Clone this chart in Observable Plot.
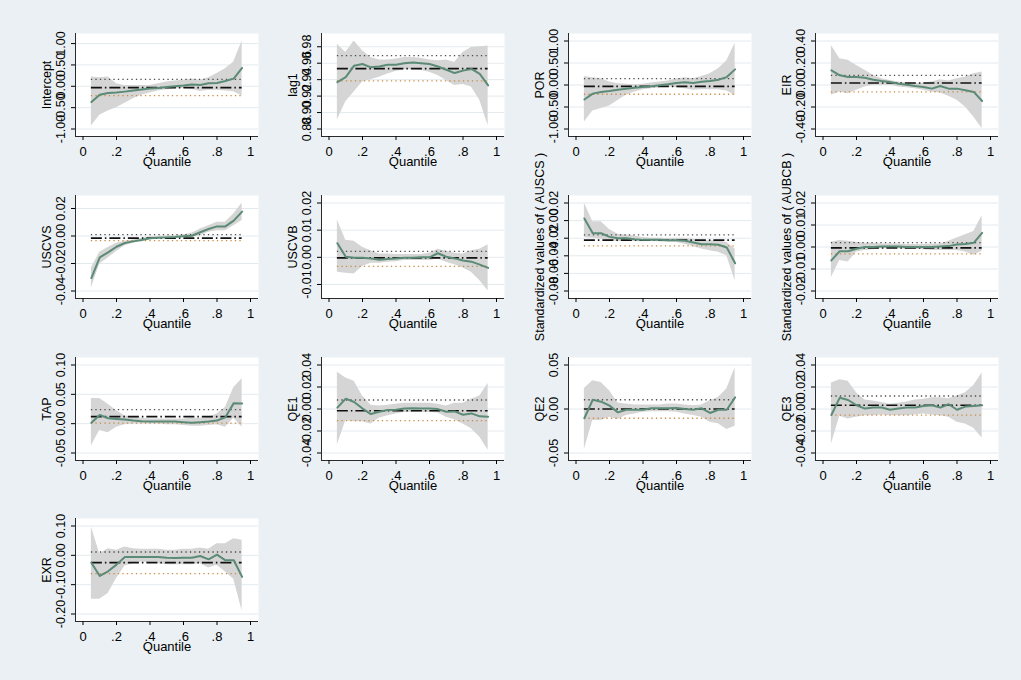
<!DOCTYPE html>
<html>
<head>
<meta charset="utf-8">
<script src="https://cdn.jsdelivr.net/npm/d3@7"></script>
<script src="https://cdn.jsdelivr.net/npm/@observablehq/plot@0.6"></script>
<style>
  html, body { margin: 0; padding: 0; background: #ffffff; }
  #graph { position: relative; width: 1021px; height: 680px; background: #eaf0f3; overflow: hidden; }
  .panel { position: absolute; }
  .panel svg { overflow: visible; }
</style>
</head>
<body>
<div id="graph"></div>
<script>
// Quantile-regression coefficients by quantile, with 95% bands, plus OLS estimate and its band.
const quantiles = [0.05, 0.10, 0.15, 0.20, 0.25, 0.30, 0.35, 0.40, 0.45, 0.50, 0.55, 0.60, 0.65, 0.70, 0.75, 0.80, 0.85, 0.90, 0.95];
const quantileTicks = [0, 0.2, 0.4, 0.6, 0.8, 1];

const interceptCoef  = [-0.37, -0.20, -0.156, -0.148, -0.125, -0.10, -0.078, -0.054, -0.039, -0.016, 0.0, 0.016, 0.039, 0.031, 0.07, 0.078, 0.125, 0.18, 0.43];
const interceptLower = [-0.93, -0.68, -0.58, -0.50, -0.40, -0.29, -0.21, -0.16, -0.11, -0.08, -0.062, -0.054, -0.07, -0.12, -0.093, -0.093, -0.11, -0.13, -0.23];
const interceptUpper = [0.218, 0.20, 0.22, 0.06, 0.02, 0.02, 0.02, 0.016, 0.062, 0.10, 0.125, 0.14, 0.17, 0.14, 0.20, 0.30, 0.41, 0.57, 1.06];
const interceptTicks = [-1, -0.5, 0, 0.5, 1];

const lag1Coef  = [0.937, 0.943, 0.957, 0.959, 0.955, 0.956, 0.958, 0.958, 0.960, 0.961, 0.960, 0.959, 0.956, 0.952, 0.948, 0.951, 0.953, 0.947, 0.933];
const lag1Lower = [0.891, 0.913, 0.925, 0.937, 0.940, 0.943, 0.947, 0.950, 0.952, 0.952, 0.951, 0.949, 0.945, 0.939, 0.933, 0.934, 0.931, 0.915, 0.884];
const lag1Upper = [0.983, 0.973, 0.987, 0.975, 0.967, 0.964, 0.964, 0.965, 0.967, 0.967, 0.966, 0.964, 0.963, 0.964, 0.961, 0.973, 0.979, 0.980, 0.981];
const lag1Ticks = [0.88, 0.90, 0.92, 0.94, 0.96, 0.98];

const porCoef  = [-0.33, -0.196, -0.158, -0.136, -0.106, -0.083, -0.06, -0.045, -0.03, -0.008, 0.015, 0.045, 0.06, 0.045, 0.075, 0.09, 0.12, 0.18, 0.355];
const porLower = [-0.84, -0.59, -0.536, -0.48, -0.35, -0.234, -0.158, -0.106, -0.083, -0.06, -0.045, -0.06, -0.083, -0.121, -0.106, -0.106, -0.106, -0.136, -0.234];
const porUpper = [0.196, 0.166, 0.143, 0.068, 0.03, 0.015, 0.008, 0.015, 0.045, 0.068, 0.09, 0.136, 0.166, 0.143, 0.196, 0.257, 0.37, 0.543, 0.95];
const porTicks = [-1, -0.5, 0, 0.5, 1];

const eirCoef  = [0.133, 0.088, 0.073, 0.073, 0.066, 0.048, 0.036, 0.027, 0.012, 0.003, -0.009, -0.018, -0.033, -0.009, -0.033, -0.033, -0.048, -0.063, -0.145];
const eirLower = [-0.094, -0.063, -0.079, -0.048, -0.018, -0.003, -0.003, -0.003, -0.018, -0.024, -0.033, -0.048, -0.063, -0.073, -0.103, -0.139, -0.20, -0.29, -0.396];
const eirUpper = [0.36, 0.239, 0.224, 0.178, 0.133, 0.088, 0.057, 0.042, 0.027, 0.018, 0.012, 0.018, 0.027, 0.048, 0.036, 0.057, 0.073, 0.103, 0.118];
const eirTicks = [-0.4, -0.2, 0, 0.2, 0.4];

const uscvsCoef  = [-0.0306, -0.0155, -0.0119, -0.0078, -0.0051, -0.0039, -0.0029, -0.0017, -0.0012, -0.001, -0.0007, -0.0002, 0.0002, 0.0027, 0.0051, 0.007, 0.007, 0.0112, 0.0177];
const uscvsLower = [-0.0379, -0.0204, -0.016, -0.0112, -0.0071, -0.0053, -0.0039, -0.0027, -0.0022, -0.002, -0.0015, -0.001, -0.001, 0.0002, 0.0027, 0.0039, 0.0039, 0.0075, 0.0112];
const uscvsUpper = [-0.0233, -0.0119, -0.0083, -0.0053, -0.0039, -0.0029, -0.0017, -0.0005, -0.0002, 0.0, 0.0002, 0.001, 0.002, 0.0051, 0.0075, 0.010, 0.010, 0.016, 0.024];
const uscvsTicks = [-0.04, -0.02, 0, 0.02];

const uscvbCoef  = [0.0052, 0.0002, -0.0002, -0.0002, -0.0004, -0.0009, -0.0006, -0.0004, -0.0002, -0.0002, 0.0, 0.0, 0.0015, 0.0002, -0.0004, -0.0012, -0.0016, -0.0027, -0.0039];
const uscvbLower = [-0.0055, -0.0059, -0.0061, -0.0034, -0.0022, -0.0022, -0.0018, -0.0016, -0.0012, -0.0012, -0.0012, -0.0012, -0.0006, -0.0018, -0.0027, -0.0039, -0.0055, -0.0085, -0.0124];
const uscvbUpper = [0.0137, 0.0063, 0.0059, 0.0037, 0.0024, 0.0012, 0.0012, 0.001, 0.001, 0.001, 0.001, 0.0015, 0.003, 0.0022, 0.0015, 0.0012, 0.0024, 0.003, 0.0046];
const uscvbTicks = [-0.01, 0, 0.01, 0.02];

const auscsCoef  = [0.0024, -0.0144, -0.0144, -0.0185, -0.020, -0.020, -0.0211, -0.0219, -0.0219, -0.0219, -0.0223, -0.0223, -0.023, -0.025, -0.0268, -0.0268, -0.0275, -0.0305, -0.0485];
const auscsLower = [-0.0193, -0.020, -0.0211, -0.023, -0.0238, -0.0238, -0.0238, -0.0241, -0.0238, -0.0241, -0.0249, -0.0249, -0.0268, -0.0298, -0.0324, -0.0343, -0.0361, -0.0399, -0.068];
const auscsUpper = [0.020, -0.0013, -0.0013, -0.010, -0.0155, -0.0163, -0.0174, -0.0193, -0.020, -0.020, -0.0204, -0.020, -0.020, -0.0211, -0.023, -0.023, -0.023, -0.0249, -0.0324];
const auscsTicks = [-0.08, -0.06, -0.04, -0.02, 0, 0.02];

const aubcbCoef  = [-0.0061, -0.0019, -0.0019, -0.0008, 0.0, 0.0, 0.0002, 0.0002, 0.0002, 0.0, 0.0, 0.0, 0.0, 0.0002, 0.0004, 0.0011, 0.0014, 0.0019, 0.0064];
const aubcbLower = [-0.0139, -0.0061, -0.0068, -0.0023, -0.0016, -0.0013, -0.0008, -0.0008, -0.0008, -0.0011, -0.0011, -0.0013, -0.0016, -0.0016, -0.0016, -0.0016, -0.0023, -0.0038, -0.0019];
const aubcbUpper = [0.0022, 0.0029, 0.0026, 0.0022, 0.0017, 0.0017, 0.0014, 0.0014, 0.0014, 0.0011, 0.0011, 0.0011, 0.0014, 0.0014, 0.0026, 0.0041, 0.0056, 0.0071, 0.0142];
const aubcbTicks = [-0.02, -0.01, 0, 0.01, 0.02];

const tapCoef  = [0.0014, 0.0148, 0.0092, 0.0081, 0.007, 0.0053, 0.0042, 0.0036, 0.0036, 0.0036, 0.0036, 0.0025, 0.0014, 0.0025, 0.0036, 0.0053, 0.0109, 0.035, 0.0344];
const tapLower = [-0.0378, -0.0115, -0.0154, -0.0059, -0.002, -0.0003, -0.0003, -0.0003, -0.0003, -0.002, -0.002, -0.0031, -0.0042, -0.0042, -0.0031, -0.002, -0.0059, 0.0092, -0.0059];
const tapUpper = [0.0428, 0.0428, 0.0333, 0.0221, 0.0137, 0.0109, 0.0092, 0.0081, 0.0081, 0.0081, 0.0081, 0.0081, 0.0092, 0.0092, 0.0109, 0.0165, 0.0277, 0.0613, 0.0764];
const tapTicks = [-0.05, 0, 0.05, 0.10];

const qe1Coef  = [0.0013, 0.0094, 0.0064, 0.0004, -0.0046, -0.0025, -0.001, -0.0007, 0.0004, 0.0007, 0.0004, 0.0004, -0.0001, -0.0025, -0.0022, -0.0052, -0.004, -0.0067, -0.007];
const qe1Lower = [-0.0324, -0.0106, -0.0115, -0.0115, -0.0136, -0.0085, -0.0061, -0.0046, -0.0031, -0.0031, -0.0031, -0.0031, -0.0037, -0.0076, -0.0097, -0.0136, -0.018, -0.0255, -0.0375];
const qe1Upper = [0.0333, 0.0282, 0.0252, 0.0118, 0.0034, 0.0028, 0.0034, 0.0043, 0.0052, 0.0052, 0.0052, 0.0052, 0.0043, 0.0028, 0.0052, 0.0052, 0.0088, 0.0118, 0.0231];
const qe1Ticks = [-0.04, -0.02, 0, 0.02, 0.04];

const qe2Coef  = [-0.0105, 0.0105, 0.0083, 0.0038, -0.0038, -0.0008, -0.0008, -0.0008, 0.0008, 0.0008, 0.0008, 0.0011, 0.0, -0.0008, 0.0008, -0.0045, -0.0008, -0.0008, 0.0132];
const qe2Lower = [-0.0459, -0.0132, -0.0132, -0.0094, -0.012, -0.0075, -0.0056, -0.0038, -0.003, -0.003, -0.003, -0.0038, -0.0056, -0.0075, -0.0094, -0.015, -0.0169, -0.0233, -0.0195];
const qe2Upper = [0.0233, 0.032, 0.030, 0.0207, 0.0068, 0.0056, 0.0045, 0.0045, 0.0045, 0.0045, 0.0056, 0.0056, 0.0045, 0.0038, 0.0045, 0.0094, 0.0132, 0.0226, 0.047];
const qe2Ticks = [-0.05, 0, 0.05];

const qe3Coef  = [-0.0055, 0.0103, 0.0082, 0.0034, 0.0004, 0.0013, 0.0013, -0.0007, 0.0004, 0.0013, 0.0013, 0.0028, 0.0034, 0.0013, 0.0043, -0.0007, 0.0022, 0.0028, 0.0034];
const qe3Lower = [-0.0321, -0.0067, -0.0091, -0.0076, -0.0061, -0.0061, -0.0055, -0.0061, -0.0061, -0.0061, -0.0055, -0.0046, -0.0055, -0.0061, -0.0076, -0.0121, -0.0136, -0.0175, -0.0264];
const qe3Upper = [0.0237, 0.0267, 0.0252, 0.0148, 0.0082, 0.0073, 0.0058, 0.0043, 0.0052, 0.0064, 0.0082, 0.0088, 0.0103, 0.0103, 0.0094, 0.0118, 0.0148, 0.0213, 0.0327];
const qe3Ticks = [-0.04, -0.02, 0, 0.02, 0.04];

const exrCoef  = [-0.025, -0.0702, -0.0544, -0.0317, -0.0057, -0.0057, -0.0057, -0.0057, -0.0057, -0.008, -0.0091, -0.008, -0.008, -0.0023, -0.0136, 0.0023, -0.017, -0.017, -0.0736];
const exrLower = [-0.1495, -0.1495, -0.13, -0.079, -0.036, -0.0283, -0.0226, -0.0249, -0.0283, -0.0317, -0.0317, -0.0317, -0.0317, -0.0283, -0.043, -0.034, -0.0566, -0.0815, -0.19];
const exrUpper = [0.0963, 0.0057, 0.0226, 0.017, 0.0283, 0.0226, 0.0204, 0.0204, 0.0204, 0.017, 0.017, 0.0204, 0.0204, 0.0249, 0.0204, 0.0396, 0.0396, 0.0566, 0.051];
const exrTicks = [-0.2, -0.1, 0, 0.1];

// OLS estimate and its confidence limits, one per variable (same order as the panels)
const olsCoef  = [-0.03, 0.9533, -0.03, 0.018, -0.0015, -0.0002, -0.0223, -0.0004, 0.012, -0.0016, 0.0, 0.0034, -0.025];
const olsLower = [-0.22, 0.9384, -0.21, -0.063, -0.0034, -0.0033, -0.0287, -0.0031, 0.0008, -0.0106, -0.0105, -0.0055, -0.0623];
const olsUpper = [0.16, 0.9693, 0.143, 0.088, 0.001, 0.0022, -0.0163, 0.002, 0.0238, 0.0082, 0.0105, 0.0118, 0.0113];

const panels = [
  {title: "Intercept", coef: interceptCoef, lower: interceptLower, upper: interceptUpper, ticks: interceptTicks},
  {title: "lag1", coef: lag1Coef, lower: lag1Lower, upper: lag1Upper, ticks: lag1Ticks},
  {title: "POR", coef: porCoef, lower: porLower, upper: porUpper, ticks: porTicks},
  {title: "EIR", coef: eirCoef, lower: eirLower, upper: eirUpper, ticks: eirTicks},
  {title: "USCVS", coef: uscvsCoef, lower: uscvsLower, upper: uscvsUpper, ticks: uscvsTicks},
  {title: "USCVB", coef: uscvbCoef, lower: uscvbLower, upper: uscvbUpper, ticks: uscvbTicks},
  {title: "Standardized values of ( AUSCS )", coef: auscsCoef, lower: auscsLower, upper: auscsUpper, ticks: auscsTicks},
  {title: "Standardized values of ( AUBCB )", coef: aubcbCoef, lower: aubcbLower, upper: aubcbUpper, ticks: aubcbTicks},
  {title: "TAP", coef: tapCoef, lower: tapLower, upper: tapUpper, ticks: tapTicks},
  {title: "QE1", coef: qe1Coef, lower: qe1Lower, upper: qe1Upper, ticks: qe1Ticks},
  {title: "QE2", coef: qe2Coef, lower: qe2Lower, upper: qe2Upper, ticks: qe2Ticks},
  {title: "QE3", coef: qe3Coef, lower: qe3Lower, upper: qe3Upper, ticks: qe3Ticks},
  {title: "EXR", coef: exrCoef, lower: exrLower, upper: exrUpper, ticks: exrTicks}
];

// Panel grid geometry (plot-region corners) and fixed plot-region size
const colLeft = [75, 321, 568, 815];
const rowTop = [33, 195, 357, 518];
const frameW = 183, frameH = 103;
const margin = {left: 60, right: 4, top: 12, bottom: 47};
const padLeft = 7.5, padRight = 8, padY = 7.5;

const graph = document.getElementById("graph");
const idx = d3.range(quantiles.length);
const quantileFormat = d => d === 0 ? "0" : d === 1 ? "1" : String(d).replace(/^0/, "");

panels.forEach((p, i) => {
  const col = i % 4, row = Math.floor(i / 4);
  const [lo, hi] = d3.extent([...p.ticks, ...p.coef, ...p.lower, ...p.upper, olsCoef[i], olsLower[i], olsUpper[i]]);
  const ky = (frameH - 2 * padY) / (hi - lo);
  const yDomain = [lo - padY / ky, hi + padY / ky];
  const kx = frameW - padLeft - padRight;
  const xDomain = [-padLeft / kx, 1 + padRight / kx];

  const chart = Plot.plot({
    width: margin.left + frameW + margin.right,
    height: margin.top + frameH + margin.bottom,
    marginLeft: margin.left,
    marginRight: margin.right,
    marginTop: margin.top,
    marginBottom: margin.bottom,
    x: {domain: xDomain},
    y: {domain: yDomain},
    style: {fontFamily: "'Liberation Sans', Arial, sans-serif", fontSize: "12px", color: "#000000", background: "transparent", overflow: "visible"},
    marks: [
      Plot.frame({fill: "#ffffff", stroke: "none"}),
      Plot.gridY(p.ticks, {stroke: "#e3eaee", strokeOpacity: 1, strokeWidth: 1}),
      Plot.areaY(idx, {x: j => quantiles[j], y1: j => p.lower[j], y2: j => p.upper[j], fill: "#d5d5d5", fillOpacity: 1}),
      Plot.ruleY([olsUpper[i]], {x1: 0.05, x2: 0.95, stroke: "#4a4a4a", strokeWidth: 1.3, strokeDasharray: "1.3,3.2"}),
      Plot.ruleY([olsLower[i]], {x1: 0.05, x2: 0.95, stroke: "#c98b45", strokeWidth: 1.3, strokeDasharray: "1.3,3.2"}),
      Plot.ruleY([olsCoef[i]], {x1: 0.05, x2: 0.95, stroke: "#111111", strokeWidth: 1.7, strokeDasharray: "11,3,1.5,3"}),
      Plot.line(idx, {x: j => quantiles[j], y: j => p.coef[j], stroke: "#5b8a76", strokeWidth: 2}),
      Plot.ruleX([xDomain[0]], {stroke: "#2a2a2a", strokeWidth: 1}),
      Plot.ruleY([yDomain[0]], {stroke: "#2a2a2a", strokeWidth: 1}),
      Plot.axisX({ticks: quantileTicks, tickFormat: quantileFormat, tickSize: 4, tickPadding: 6, label: "Quantile", labelAnchor: "center", labelOffset: 29, labelArrow: "none", fontSize: 13}),
      Plot.axisY({ticks: p.ticks, tickFormat: d => d.toFixed(2), tickRotate: -90, tickSize: 4, tickPadding: 7, label: p.title, labelAnchor: "center", labelOffset: 33, labelArrow: "none", fontSize: 12.5})
    ]
  });

  const holder = document.createElement("div");
  holder.className = "panel";
  holder.style.left = (colLeft[col] - margin.left) + "px";
  holder.style.top = (rowTop[row] - margin.top) + "px";
  holder.appendChild(chart);
  graph.appendChild(holder);
});
</script>
</body>
</html>
